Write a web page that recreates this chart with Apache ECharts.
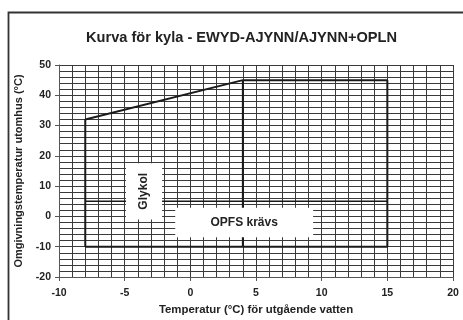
<!DOCTYPE html>
<html>
<head>
<meta charset="utf-8">
<script src="https://cdn.jsdelivr.net/npm/echarts@6/dist/echarts.min.js"></script>
<style>html,body{margin:0;padding:0;background:#fff;}#c{width:463px;height:320px;}</style>
</head>
<body>
<div id="c"></div>
<script>
const titleText = 'Kurva för kyla - EWYD-AJYNN/AJYNN+OPLN';
const xName = 'Temperatur (°C) för utgående vatten';
const yName = 'Omgivningstemperatur utomhus (°C)';
const envelope = [[-8, -10], [-8, 32], [4, 45], [15, 45], [15, -10], [-8, -10]];
const dividerV = [[4, 45], [4, -10]];
const dividerH = [[-8, 5], [15, 5]];
const glykolBox = [[-4.9, 17.6], [-2.15, -1.0]];
const opfsBox = [[-1.15, 2.9], [9.35, -6.9]];
const boxLabels = ['Glykol', 'OPFS krävs'];

const font = '"Liberation Sans", Arial, sans-serif';
const chart = echarts.init(document.getElementById('c'), null, {renderer: 'canvas'});
const gridLine = {show: true, lineStyle: {color: '#3a3a3a', width: 1}};
chart.setOption({
  animation: false,
  backgroundColor: '#fff',
  title: {
    text: titleText, left: 81, top: 25,
    textStyle: {fontFamily: font, fontSize: 14.6, fontWeight: 'bold', color: '#222'}
  },
  graphic: [{
    type: 'rect', shape: {x: 8.5, y: 12.5, width: 520, height: 400},
    style: {fill: 'none', stroke: '#333', lineWidth: 1.8}, silent: true
  }],
  grid: {left: 59, right: 10, top: 65, bottom: 41},
  xAxis: {
    type: 'value', min: -10, max: 20, interval: 5,
    name: xName, nameLocation: 'middle', nameGap: 27,
    nameTextStyle: {fontFamily: font, fontSize: 11.4, fontWeight: 'bold', color: '#222'},
    axisLine: {show: true, onZero: false, lineStyle: {color: '#555', width: 1}},
    axisTick: {show: true, length: 4, lineStyle: {color: '#555'}},
    axisLabel: {fontFamily: font, fontSize: 10.5, fontWeight: 'bold', color: '#222', margin: 11},
    splitLine: gridLine,
    minorTick: {show: false, splitNumber: 5},
    minorSplitLine: gridLine
  },
  yAxis: {
    type: 'value', min: -20, max: 50, interval: 10,
    name: yName, nameLocation: 'middle', nameGap: 31,
    nameTextStyle: {fontFamily: font, fontSize: 11, fontWeight: 'bold', color: '#222'},
    axisLine: {show: true, onZero: false, lineStyle: {color: '#555', width: 1}},
    axisTick: {show: true, length: 4, lineStyle: {color: '#555'}},
    axisLabel: {fontFamily: font, fontSize: 10.5, fontWeight: 'bold', color: '#222', margin: 8},
    splitLine: gridLine,
    minorTick: {show: false, splitNumber: 5},
    minorSplitLine: gridLine
  },
  series: [
    {type: 'line', data: envelope, symbol: 'none', z: 3,
     lineStyle: {color: '#1a1a1a', width: 2}},
    {type: 'line', data: dividerV, symbol: 'none', z: 3,
     lineStyle: {color: '#1a1a1a', width: 2}},
    {type: 'line', data: dividerH, symbol: 'none', z: 3,
     lineStyle: {color: '#1a1a1a', width: 1.5}},
    {type: 'line', data: [], symbol: 'none', z: 10,
     markArea: {
       silent: true, z: 20,
       itemStyle: {color: '#fff', opacity: 1},
       label: {show: true, position: 'inside', fontFamily: font, fontSize: 12, fontWeight: 'bold', color: '#222'},
       data: [
         [{coord: glykolBox[0], name: boxLabels[0], label: {rotate: 90}}, {coord: glykolBox[1]}],
         [{coord: opfsBox[0], name: boxLabels[1]}, {coord: opfsBox[1]}]
       ]
     }}
  ]
});
</script>
</body>
</html>
